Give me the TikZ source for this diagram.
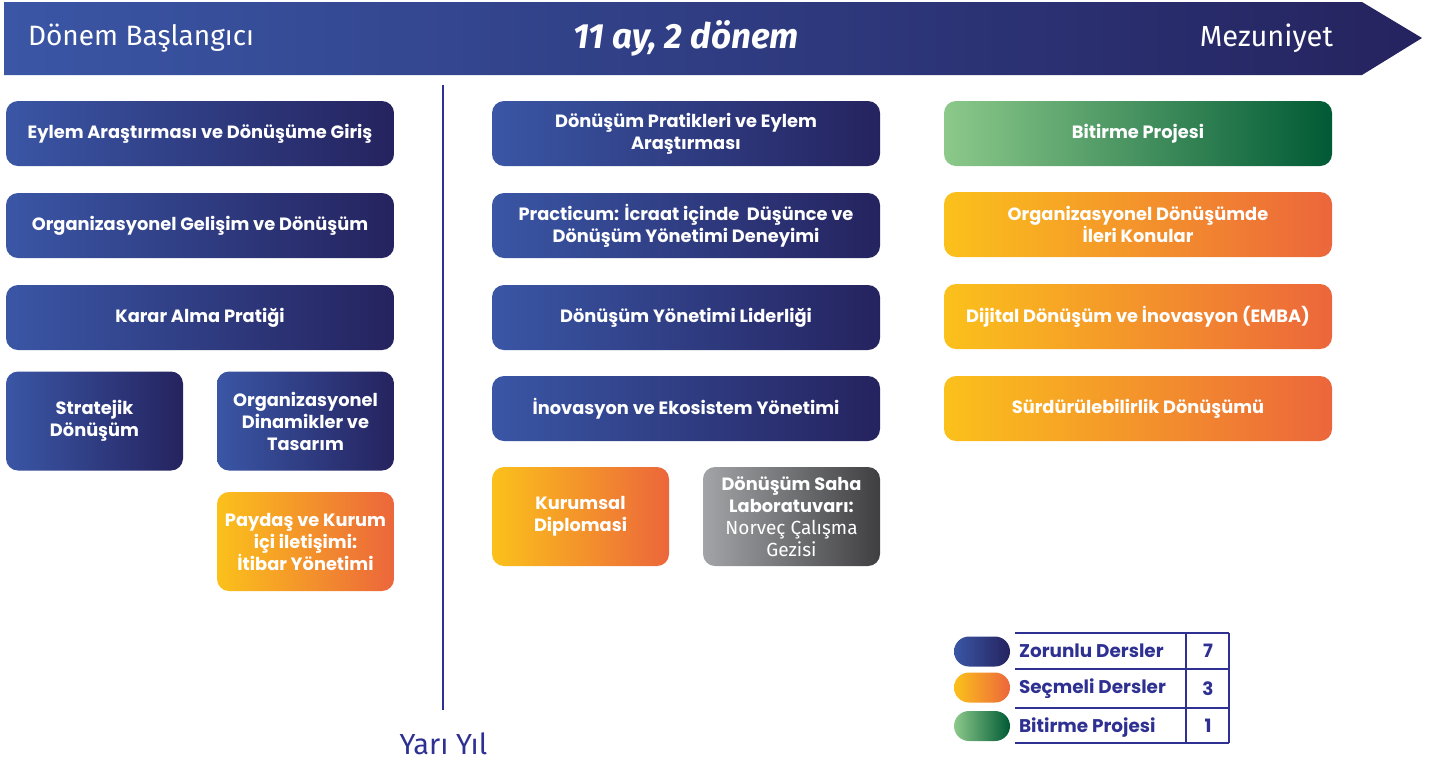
\documentclass[tikz,border=0pt]{standalone}
\usepackage{fontspec}
\setmainfont{Fira Sans}
\newfontfamily\boxfont{Poppins}
\usepackage{tikz}

\definecolor{blueL}{HTML}{3A56A5}
\definecolor{blueR}{HTML}{25235F}
\definecolor{orangeL}{HTML}{FBC11B}
\definecolor{orangeR}{HTML}{EC663B}
\definecolor{greenL}{HTML}{8CC98A}
\definecolor{greenR}{HTML}{005A35}
\definecolor{greyL}{HTML}{A3A4A7}
\definecolor{greyR}{HTML}{3F3F42}
\definecolor{navy}{HTML}{2E3192}

\begin{document}
\begin{tikzpicture}[
		x=0.5pt, y=-0.5pt,
		course/.style={rounded corners=6pt, text=white, align=center, inner sep=0pt,
			font=\boxfont\bfseries\fontsize{8.9}{11}\selectfont},
		wide/.style={course, minimum width=194pt, minimum height=32.5pt},
		small/.style={course, minimum width=88.5pt, minimum height=49.5pt},
		must/.style={left color=blueL, right color=blueR},
		elective/.style={left color=orangeL, right color=orangeR},
		final/.style={left color=greenL, right color=greenR},
		field/.style={left color=greyL, right color=greyR},
		pill/.style={rounded corners=7.5pt, minimum width=28pt, minimum height=15pt, inner sep=0pt},
		legendfont/.style={text=navy, font=\boxfont\bfseries\fontsize{9.2}{10}\selectfont}
	]
	\useasboundingbox (0,0) rectangle (1438,762);

	% zaman oku
	\shade[left color=blueL, right color=blueR] (4,2) -- (1362,2) -- (1422,38) -- (1362,75) -- (4,75) -- cycle;
	\node[text=white, anchor=west, font=\fontsize{14}{16}\selectfont] (start) at (21,38) {Dönem Başlangıcı};
	\node[text=white, font=\bfseries\itshape\fontsize{17.5}{19}\selectfont] (span) at (686,38) {11 ay, 2 dönem};
	\node[text=white, anchor=east, font=\fontsize{14.5}{16}\selectfont] (end) at (1340,38) {Mezuniyet};

	% yarı yıl ayracı
	\draw[navy, line width=1.2pt] (443,85) -- (443,710);
	\node[text=navy, font=\fontsize{14.5}{16}\selectfont] (term) at (443.5,744) {Yarı Yıl};

	% birinci yarı yıl
	\node[wide, must] (l1) at (200,133.5) {Eylem Araştırması ve Dönüşüme Giriş};
	\node[wide, must] (l2) at (200,225.5) {Organizasyonel Gelişim ve Dönüşüm};
	\node[wide, must] (l3) at (200,317.5) {Karar Alma Pratiği};
	\node[small, must] (l4) at (94.5,421) {Stratejik\\Dönüşüm};
	\node[small, must] (l5) at (305.5,421) {Organizasyonel\\Dinamikler ve\\Tasarım};
	\node[small, elective] (l6) at (305.5,541.5) {Paydaş ve Kurum\\içi iletişimi:\\İtibar Yönetimi};

	% ikinci yarı yıl
	\node[wide, must] (m1) at (686,133.5) {Dönüşüm Pratikleri ve Eylem\\Araştırması};
	\node[wide, must] (m2) at (686,225.5) {Practicum: İcraat içinde\ \ Düşünce ve\\Dönüşüm Yönetimi Deneyimi};
	\node[wide, must] (m3) at (686,317.5) {Dönüşüm Yönetimi Liderliği};
	\node[wide, must] (m4) at (686,408.5) {İnovasyon ve Ekosistem Yönetimi};
	\node[small, elective] (m5) at (580.5,516.5) {Kurumsal\\Diplomasi};
	\node[small, field] (m6) at (791.5,516.5) {Dönüşüm Saha\\Laboratuvarı:\\{\rmfamily\mdseries\fontsize{9.5}{11}\selectfont Norveç Çalışma}\\{\rmfamily\mdseries\fontsize{9.5}{11}\selectfont Gezisi}};

	% son dönem
	\node[wide, final] (r1) at (1138,133.5) {Bitirme Projesi};
	\node[wide, elective] (r2) at (1138,224.5) {Organizasyonel Dönüşümde\\İleri Konular};
	\node[wide, elective] (r3) at (1138,316.5) {Dijital Dönüşüm ve İnovasyon (EMBA)};
	\node[wide, elective] (r4) at (1138,408.5) {Sürdürülebilirlik Dönüşümü};

	% açıklama tablosu
	\node[pill, must] (p1) at (982,651.5) {};
	\node[pill, elective] (p2) at (982,687.5) {};
	\node[pill, final] (p3) at (982,726) {};
	\node[legendfont, anchor=west] (t1) at (1012,651) {Zorunlu Dersler};
	\node[legendfont, anchor=west] (t2) at (1012,689) {Seçmeli Dersler};
	\node[legendfont, anchor=west] (t3) at (1012,728) {Bitirme Projesi};
	\node[legendfont] (n1) at (1208,651) {7};
	\node[legendfont] (n2) at (1208,689) {3};
	\node[legendfont] (n3) at (1208,726) {1};
	\draw[navy, line width=1pt] (1015,633) -- (1229,633) (1015,669) -- (1229,669)
		(1015,708) -- (1229,708) (1015,743) -- (1229,743)
		(1186,633) -- (1186,743) (1229,633) -- (1229,743);
\end{tikzpicture}
\end{document}
